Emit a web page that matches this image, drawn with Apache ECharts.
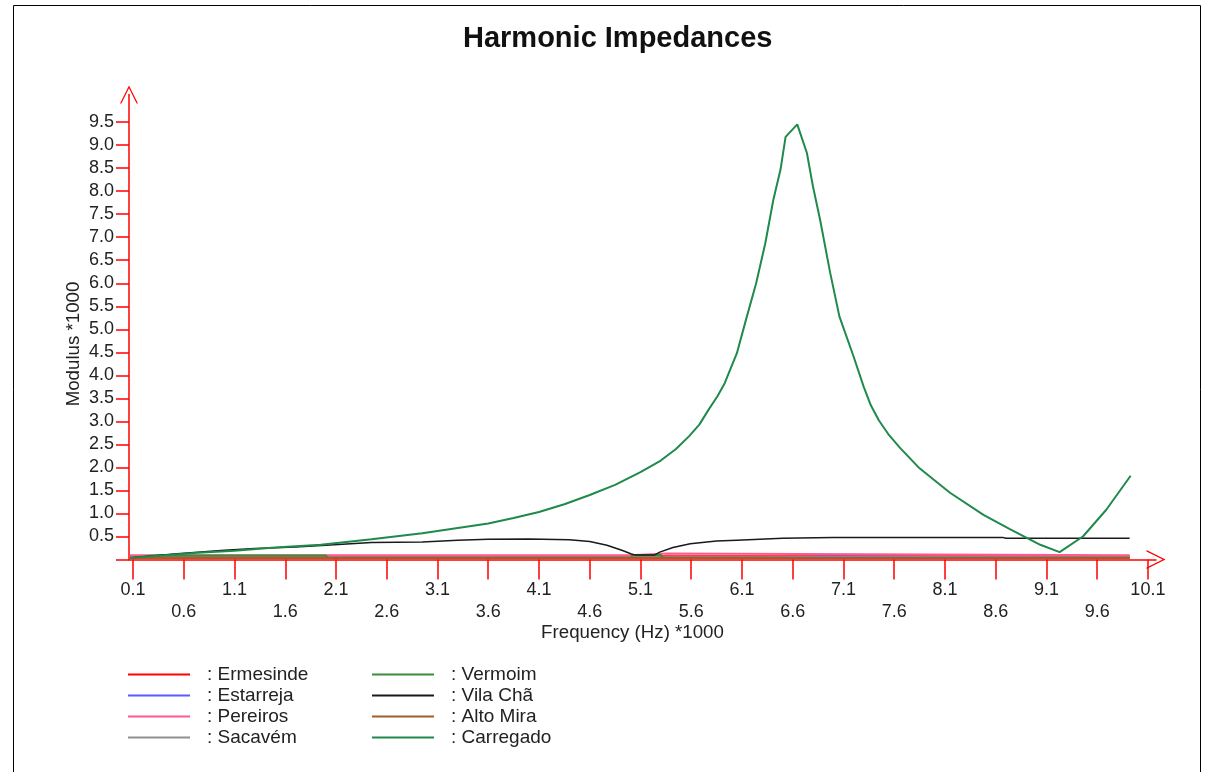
<!DOCTYPE html>
<html><head><meta charset="utf-8">
<script src="https://cdn.jsdelivr.net/npm/echarts@6/dist/echarts.min.js"></script>
<style>html,body{margin:0;padding:0;background:#fff}#c{width:1205px;height:772px}</style>
</head><body><div id="c"></div>
<script>
const chartTitle = 'Harmonic Impedances';
const xName = 'Frequency (Hz) *1000';
const yName = 'Modulus *1000';
const xTicks = [0.1,0.6,1.1,1.6,2.1,2.6,3.1,3.6,4.1,4.6,5.1,5.6,6.1,6.6,7.1,7.6,8.1,8.6,9.1,9.6,10.1];
const yTicks = [0.5,1.0,1.5,2.0,2.5,3.0,3.5,4.0,4.5,5.0,5.5,6.0,6.5,7.0,7.5,8.0,8.5,9.0,9.5];
const seriesNames = ['Ermesinde','Estarreja','Pereiros','Sacavém','Vermoim','Vila Chã','Alto Mira','Carregado'];
const seriesColors = ['#ff0000','#5a5aff','#ff5a90','#909090','#3c8c3c','#1a1a1a','#a0602a','#1f8a4c'];

// [frequency (kHz), modulus (x1000)]
const ermesinde = [[0.07,0.07],[9.92,0.07]];
const estarreja = [[0.07,0.04],[6.34,0.04],[6.35,0.065],[6.93,0.065],[6.94,0.04],[9.92,0.04]];
const pereiros  = [[0.07,0.09],[5.0,0.09],[5.01,0.13],[5.37,0.13],[5.38,0.09],[9.92,0.09]];
const sacavem   = [[0.07,0.05],[9.92,0.05]];
const vermoim   = [[0.07,0.03],[0.3,0.085],[2.0,0.085],[2.02,0.03],[5.01,0.03],[5.02,0.1],[5.3,0.1],[5.32,0.03],[9.92,0.03]];
const vilaCha   = [[0.07,0.03],[0.5,0.12],[1.0,0.2],[1.3,0.24],[1.7,0.27],[2.0,0.31],[2.45,0.37],[2.95,0.38],[3.3,0.42],[3.6,0.44],[4.0,0.445],[4.4,0.43],[4.6,0.39],[4.77,0.31],[4.93,0.19],[5.01,0.12],[5.05,0.1],[5.24,0.1],[5.29,0.16],[5.42,0.26],[5.59,0.34],[5.85,0.4],[6.05,0.42],[6.5,0.46],[7.0,0.48],[8.0,0.48],[8.67,0.48],[8.7,0.46],[9.92,0.46]];
const altoMira  = [[0.07,0.035],[9.92,0.035]];
const carregado = [[0.07,0.03],[0.35,0.08],[0.7,0.14],[1.1,0.19],[1.5,0.26],[1.95,0.32],[2.45,0.44],[2.95,0.57],[3.35,0.7],[3.6,0.78],[3.85,0.9],[4.1,1.03],[4.35,1.2],[4.6,1.4],[4.85,1.62],[5.1,1.9],[5.3,2.15],[5.45,2.4],[5.58,2.68],[5.68,2.93],[5.77,3.25],[5.86,3.55],[5.93,3.83],[6.05,4.48],[6.14,5.21],[6.24,6.0],[6.33,6.87],[6.41,7.82],[6.48,8.47],[6.53,9.18],[6.645,9.45],[6.74,8.83],[6.80,8.1],[6.87,7.38],[6.97,6.22],[7.06,5.28],[7.2,4.41],[7.3,3.75],[7.37,3.35],[7.45,3.02],[7.55,2.7],[7.66,2.42],[7.85,1.98],[8.15,1.45],[8.48,0.97],[8.74,0.66],[9.04,0.32],[9.23,0.16],[9.46,0.5],[9.69,1.08],[9.93,1.82]];
const seriesData = [ermesinde, estarreja, pereiros, sacavem, vermoim, vilaCha, altoMira, carregado];
const seriesWidths = [2,2,2,2,2,1.5,2,2];

const FONT = "'Liberation Sans', Arial, sans-serif";
const TXT = '#222';
const RED = '#ff0000';
const chevron = 'path://M0,20 L10,0 L20,20 L18.5,20 L10,3 L1.5,20 Z';

const chart = echarts.init(document.getElementById('c'));
chart.setOption({
  animation: false,
  backgroundColor: '#fff',
  title: {
    text: chartTitle, left: 458, top: 19,
    textStyle: {fontFamily: FONT, fontSize: 29, fontWeight: 'bold', color: '#111'}
  },
  graphic: [{
    type: 'rect', shape: {x: 13.5, y: 5.5, width: 1187, height: 780},
    style: {fill: 'none', stroke: '#000', lineWidth: 1}, silent: true
  }],
  grid: {left: 129, right: 1205 - 1156, top: 94.5, bottom: 212.5, containLabel: false},
  xAxis: {
    type: 'value', min: 0.06, max: 10.18,
    name: xName, nameLocation: 'middle', nameGap: 64, nameMoveOverlap: false,
    nameTextStyle: {fontFamily: FONT, fontSize: 18.7, color: TXT, padding: [0, 20, 0, 0]},
    axisLine: {show: true, lineStyle: {color: RED, width: 1.5}, symbol: ['none', chevron], symbolSize: [22, 19]},
    axisTick: {show: true, length: 20, lineStyle: {color: RED, width: 1.5}, customValues: xTicks},
    axisLabel: {
      customValues: xTicks, margin: 20, fontFamily: FONT, fontSize: 18, color: TXT, lineHeight: 22,
      formatter: function (v) {
        const k = Math.round((v - 0.1) * 2);
        return (k % 2 === 0) ? v.toFixed(1) : '\n' + v.toFixed(1);
      }
    },
    splitLine: {show: false}
  },
  yAxis: {
    type: 'value', min: 0, max: 10.1,
    name: yName, nameLocation: 'middle', nameGap: 46, nameRotate: 90, nameMoveOverlap: false,
    nameTextStyle: {fontFamily: FONT, fontSize: 18.7, color: TXT, padding: [0, 34, 0, 0]},
    axisLine: {show: true, lineStyle: {color: RED, width: 1.5}, symbol: ['none', chevron], symbolSize: [18, 22]},
    axisTick: {show: true, length: 13, lineStyle: {color: RED, width: 1.5}, customValues: [0].concat(yTicks)},
    axisLabel: {
      customValues: yTicks, margin: 15, fontFamily: FONT, fontSize: 18, color: TXT,
      formatter: function (v) { return v.toFixed(1); }
    },
    splitLine: {show: false}
  },
  legend: [
    {
      orient: 'vertical', left: 128, top: 664, padding: 0, itemWidth: 62, itemHeight: 2, itemGap: 0, icon: 'rect',
      data: seriesNames.slice(0, 4),
      formatter: function (n) { return ': ' + n; },
      textStyle: {fontFamily: FONT, fontSize: 19, color: TXT, lineHeight: 21, padding: [0, 0, 0, 12]}
    },
    {
      orient: 'vertical', left: 372, top: 664, padding: 0, itemWidth: 62, itemHeight: 2, itemGap: 0, icon: 'rect',
      data: seriesNames.slice(4),
      formatter: function (n) { return ': ' + n; },
      textStyle: {fontFamily: FONT, fontSize: 19, color: TXT, lineHeight: 21, padding: [0, 0, 0, 12]}
    }
  ],
  series: seriesNames.map(function (n, i) {
    return {
      name: n, type: 'line', data: seriesData[i], showSymbol: false, symbol: 'none',
      color: seriesColors[i], lineStyle: {width: seriesWidths[i], color: seriesColors[i]},
      z: 2 + i
    };
  })
});
</script></body></html>
